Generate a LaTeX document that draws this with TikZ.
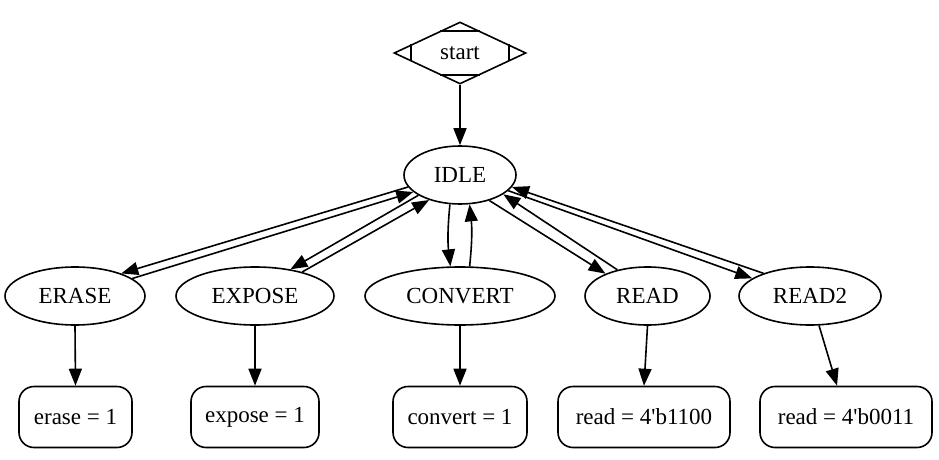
\documentclass[tikz,border=0pt]{standalone}
\usepackage{fontspec}
\setmainfont{Liberation Serif}
\usetikzlibrary{shapes.geometric,arrows.meta,calc}
\begin{document}
\begin{tikzpicture}[x=1pt,y=-1pt,
  every node/.style={font=\fontsize{23}{27}\selectfont, line width=1.6pt},
  state/.style={ellipse, draw, inner sep=0pt, minimum height=58pt},
  outbox/.style={draw, rounded corners=15pt, minimum height=61pt, inner sep=0pt},
  startshape/.style={diamond, draw, inner sep=0pt, minimum width=132pt, minimum height=62pt},
  edge/.style={-{Triangle[length=17pt,width=13pt]}, line width=1.6pt},
  mline/.style={line width=1.6pt}]
\useasboundingbox (0,0) rectangle (939,460);

\node[startshape] (start) at (460,53) {start};
\draw[mline] ($(start.north)+(-20,10)$) -- ($(start.north)+(20,10)$);
\draw[mline] ($(start.south)+(-20,-10)$) -- ($(start.south)+(20,-10)$);
\draw[mline] ($(start.west)+(18,-8.5)$) -- ($(start.west)+(18,8.5)$);
\draw[mline] ($(start.east)+(-18,-8.5)$) -- ($(start.east)+(-18,8.5)$);

\node[state, minimum width=112pt] (IDLE) at (460,175) {IDLE};

\node[state, minimum width=140pt] (ERASE) at (75,296) {ERASE};
\node[state, minimum width=158pt] (EXPOSE) at (255,296) {EXPOSE};
\node[state, minimum width=190pt] (CONVERT) at (460,296) {CONVERT};
\node[state, minimum width=125pt] (READ) at (647.5,296) {READ};
\node[state, minimum width=142pt] (READ2) at (810,296) {READ2};

\node[outbox, minimum width=113pt] (b1) at (75.5,417) {erase = 1};
\node[outbox, minimum width=128pt] (b2) at (255,417) {expose = 1};
\node[outbox, minimum width=134pt] (b3) at (460,417) {convert = 1};
\node[outbox, minimum width=172pt] (b4) at (644,417) {read = 4\textquotesingle b1100};
\node[outbox, minimum width=172pt] (b5) at (846,417) {read = 4\textquotesingle b0011};

\draw[edge] (start.south) -- (IDLE.north);

\draw[edge] (IDLE.193) -- (ERASE.26);
\draw[edge] (ERASE.17) -- (IDLE.200);
\draw[edge] (IDLE.206) -- (EXPOSE.37);
\draw[edge] (EXPOSE.27) -- (IDLE.219);
\draw[edge] (IDLE.251) to[bend right=6] (CONVERT.108);
\draw[edge] (CONVERT.72) to[bend right=6] (IDLE.288);
\draw[edge] (IDLE.319) -- (READ.152);
\draw[edge] (READ.139) -- (IDLE.336);
\draw[edge] (IDLE.342) -- (READ2.163);
\draw[edge] (READ2.154) -- (IDLE.347);

\draw[edge] (ERASE.south) -- (b1.north);
\draw[edge] (EXPOSE.south) -- (b2.north);
\draw[edge] (CONVERT.south) -- (b3.north);
\draw[edge] (READ.south) -- (b4.north);
\draw[edge] (READ2.287) -- (b5.106);
\end{tikzpicture}
\end{document}
